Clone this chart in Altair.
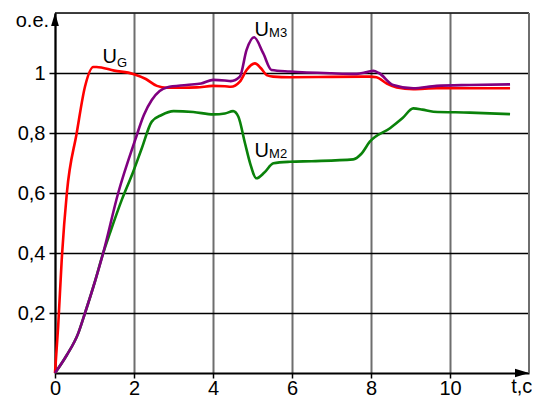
import altair as alt
import pandas as pd

# ---- data ----
ug_t = [0, 0.08, 0.17, 0.3, 0.55, 0.76, 0.97, 1.05, 1.5, 1.98, 2.3, 2.58, 2.83, 3.2, 3.59, 4.0, 4.3,
        4.45, 4.68, 4.85, 5.06, 5.22, 5.36, 5.52, 5.95, 7.0, 7.97, 8.14, 8.4, 8.65, 9.07, 9.66, 10.5, 11.52]
ug_v = [0, 0.155, 0.377, 0.6, 0.8, 0.955, 1.02, 1.02, 1.008, 0.997, 0.98, 0.957, 0.951, 0.951, 0.952,
        0.957, 0.956, 0.954, 0.971, 1.01, 1.032, 1.015, 0.993, 0.988, 0.986, 0.987, 0.988, 0.986,
        0.965, 0.952, 0.946, 0.949, 0.949, 0.949]

um3_t = [0, 0.3, 0.59, 0.76, 1.0, 1.22, 1.6, 2.03, 2.25, 2.45, 2.65, 2.83, 3.33, 3.7, 4.01, 4.3, 4.45,
         4.68, 4.85, 5.04, 5.27, 5.48, 5.95, 7.0, 7.64, 7.9, 8.06, 8.2, 8.56, 9.07, 9.66, 10.5, 11.52]
um3_v = [0, 0.06, 0.133, 0.2, 0.3, 0.4, 0.6, 0.777, 0.86, 0.91, 0.94, 0.952, 0.96, 0.965, 0.977,
         0.975, 0.973, 0.988, 1.077, 1.119, 1.066, 1.01, 1.005, 0.999, 0.997, 1.003, 1.007, 1.0,
         0.96, 0.949, 0.957, 0.96, 0.962]

um2_t = [0, 0.3, 0.59, 0.76, 1.0, 1.22, 1.4, 1.69, 1.98, 2.2, 2.45, 2.7, 3.0, 3.5, 4.01, 4.3, 4.51,
         4.64, 4.81, 4.94, 5.1, 5.3, 5.53, 5.95, 6.5, 7.55, 7.75, 7.97, 8.48, 8.8, 9.07, 9.3, 9.58,
         10.5, 11.52]
um2_v = [0, 0.06, 0.133, 0.2, 0.3, 0.4, 0.47, 0.577, 0.671, 0.75, 0.838, 0.86, 0.873, 0.87, 0.862,
         0.865, 0.873, 0.855, 0.766, 0.699, 0.649, 0.668, 0.699, 0.704, 0.706, 0.712, 0.73, 0.771,
         0.816, 0.85, 0.882, 0.878, 0.871, 0.868, 0.863]

x_ticks = [0, 2, 4, 6, 8, 10]
y_ticks = [0.2, 0.4, 0.6, 0.8, 1.0]
x_max = 12
y_max = 1.2

FONT = "Liberation Sans"

xs = alt.Scale(domain=[0, x_max], nice=False)
ys = alt.Scale(domain=[0, y_max], nice=False)

x_axis = alt.Axis(values=x_ticks, title=None, grid=True, gridColor="#6e6e6e", gridWidth=2,
                  domainColor="black", domainWidth=2, tickColor="black", tickWidth=1.5,
                  tickSize=5, labelFontSize=20, labelFont=FONT, labelColor="black",
                  labelPadding=0, labelFlush=False)
y_axis = alt.Axis(values=y_ticks, title=None, grid=True, gridColor="black", gridWidth=1.5,
                  domainColor="black", domainWidth=2, tickColor="black", tickWidth=1.5,
                  tickSize=6, labelFontSize=20, labelFont=FONT, labelColor="black",
                  labelPadding=4,
                  labelExpr="replace(format(datum.value, '~g'), '.', ',')")

X = alt.X("t:Q", scale=xs, axis=x_axis)
Y = alt.Y("v:Q", scale=ys, axis=y_axis)


def series(t, v, color):
    df = pd.DataFrame({"t": t, "v": v})
    return alt.Chart(df).mark_line(interpolate="monotone", strokeWidth=2.6, color=color).encode(
        x=X, y=Y)


green = series(um2_t, um2_v, "#0a820a")
red = series(ug_t, ug_v, "#ff0000")
purple = series(um3_t, um3_v, "#800080")

top_border = alt.Chart(pd.DataFrame({"v": [y_max]})).mark_rule(color="black", strokeWidth=1.5).encode(y=Y)
right_border = alt.Chart(pd.DataFrame({"t": [x_max]})).mark_rule(color="#6e6e6e", strokeWidth=2).encode(x=X)

up_arrow = alt.Chart(pd.DataFrame({"t": [0], "v": [y_max]})).mark_point(
    shape="M0,0L-0.6,2L0.6,2Z", size=169, filled=True, color="black", opacity=1, strokeWidth=0
).encode(x=X, y=Y)
right_arrow = alt.Chart(pd.DataFrame({"t": [x_max], "v": [0]})).mark_point(
    shape="M0,0L-2,-0.6L-2,0.6Z", size=196, filled=True, color="black", opacity=1, strokeWidth=0
).encode(x=X, y=Y)

big = pd.DataFrame({"t": [1.20, 5.05, 5.05, 11.55],
                    "v": [1.033, 1.123, 0.72, -0.068],
                    "s": ["U", "U", "U", "t,c"]})
small = pd.DataFrame({"t": [1.57, 5.42, 5.42],
                      "v": [1.02, 1.121, 0.717],
                      "s": ["G", "M3", "M2"]})
oe = pd.DataFrame({"t": [-0.15], "v": [1.153], "s": ["o.e."]})

big_txt = alt.Chart(big).mark_text(align="left", baseline="alphabetic", font=FONT, fontSize=20,
                                   color="black").encode(x=X, y=Y, text="s:N")
small_txt = alt.Chart(small).mark_text(align="left", baseline="alphabetic", font=FONT, fontSize=13,
                                       color="black").encode(x=X, y=Y, text="s:N")
oe_txt = alt.Chart(oe).mark_text(align="right", baseline="alphabetic", font=FONT, fontSize=20,
                                 color="black").encode(x=X, y=Y, text="s:N")

chart = alt.layer(
    green, red, purple, top_border, right_border, up_arrow, right_arrow, big_txt, small_txt, oe_txt
).properties(
    width=474, height=360,
    autosize=alt.AutoSizeParams(type="none"),
    padding={"left": 47, "top": 5, "right": 3, "bottom": 25},
).configure_view(stroke=None).configure(background="white")

chart.save("out.html", embed_options={"renderer": "svg", "actions": False})
